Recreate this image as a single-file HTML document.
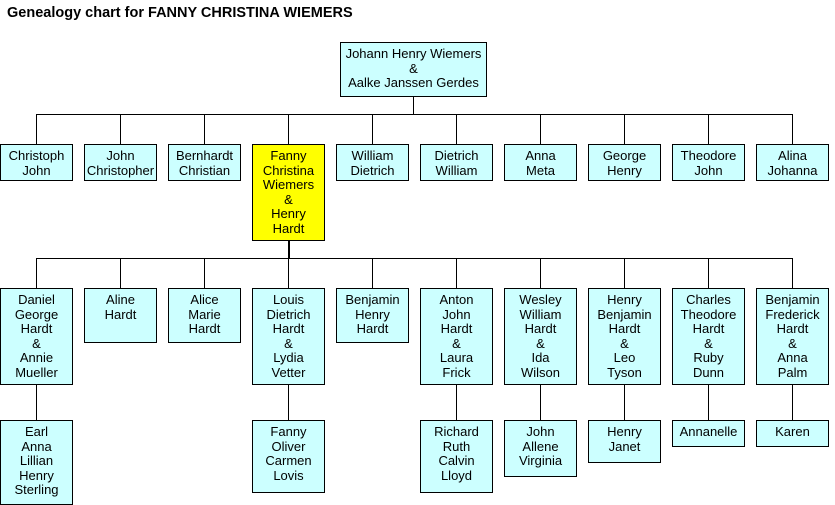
<!DOCTYPE html>
<html><head><meta charset="utf-8"><style>
body{margin:0;width:835px;height:505px;background:#fff;position:relative;overflow:hidden;font-family:"Liberation Sans",Arial,sans-serif}
.t{position:absolute;left:7px;top:5px;font-weight:bold;font-size:14.5px}
.b{position:absolute;box-sizing:border-box;border:1px solid #000;background:#ccffff;text-align:center;font-size:13px;line-height:14.6px;padding-top:4px;color:#000;white-space:nowrap}
.y{background:#ffff00}
.h{position:absolute;height:1px;background:#000}
.v{position:absolute;width:1px;background:#000}
</style></head><body>
<div class="t">Genealogy chart for FANNY CHRISTINA WIEMERS</div>
<div class="b" style="left:340px;top:42px;width:147px;height:55px">Johann Henry Wiemers<br>&amp;<br>Aalke Janssen Gerdes</div>
<div class="v" style="left:413px;top:96px;height:19px"></div>
<div class="h" style="left:36px;top:114px;width:757px"></div>
<div class="v" style="left:36px;top:114px;height:30px"></div>
<div class="v" style="left:120px;top:114px;height:30px"></div>
<div class="v" style="left:204px;top:114px;height:30px"></div>
<div class="v" style="left:288px;top:114px;height:30px"></div>
<div class="v" style="left:372px;top:114px;height:30px"></div>
<div class="v" style="left:456px;top:114px;height:30px"></div>
<div class="v" style="left:540px;top:114px;height:30px"></div>
<div class="v" style="left:624px;top:114px;height:30px"></div>
<div class="v" style="left:708px;top:114px;height:30px"></div>
<div class="v" style="left:792px;top:114px;height:30px"></div>

<div class="b" style="left:0;top:144px;width:73px;height:37px">Christoph<br>John</div>
<div class="b" style="left:84px;top:144px;width:73px;height:37px">John<br>Christopher</div>
<div class="b" style="left:168px;top:144px;width:73px;height:37px">Bernhardt<br>Christian</div>
<div class="b y" style="left:252px;top:144px;width:73px;height:97px">Fanny<br>Christina<br>Wiemers<br>&amp;<br>Henry<br>Hardt</div>
<div class="b" style="left:336px;top:144px;width:73px;height:37px">William<br>Dietrich</div>
<div class="b" style="left:420px;top:144px;width:73px;height:37px">Dietrich<br>William</div>
<div class="b" style="left:504px;top:144px;width:73px;height:37px">Anna<br>Meta</div>
<div class="b" style="left:588px;top:144px;width:73px;height:37px">George<br>Henry</div>
<div class="b" style="left:672px;top:144px;width:73px;height:37px">Theodore<br>John</div>
<div class="b" style="left:756px;top:144px;width:73px;height:37px">Alina<br>Johanna</div>

<div class="v" style="left:288px;top:240px;height:18px;width:2px"></div>
<div class="h" style="left:36px;top:258px;width:757px"></div>
<div class="v" style="left:36px;top:258px;height:30px"></div>
<div class="v" style="left:120px;top:258px;height:30px"></div>
<div class="v" style="left:204px;top:258px;height:30px"></div>
<div class="v" style="left:288px;top:258px;height:30px"></div>
<div class="v" style="left:372px;top:258px;height:30px"></div>
<div class="v" style="left:456px;top:258px;height:30px"></div>
<div class="v" style="left:540px;top:258px;height:30px"></div>
<div class="v" style="left:624px;top:258px;height:30px"></div>
<div class="v" style="left:708px;top:258px;height:30px"></div>
<div class="v" style="left:792px;top:258px;height:30px"></div>

<div class="b" style="left:0;top:288px;width:73px;height:97px">Daniel<br>George<br>Hardt<br>&amp;<br>Annie<br>Mueller</div>
<div class="b" style="left:84px;top:288px;width:73px;height:55px">Aline<br>Hardt</div>
<div class="b" style="left:168px;top:288px;width:73px;height:55px">Alice<br>Marie<br>Hardt</div>
<div class="b" style="left:252px;top:288px;width:73px;height:97px">Louis<br>Dietrich<br>Hardt<br>&amp;<br>Lydia<br>Vetter</div>
<div class="b" style="left:336px;top:288px;width:73px;height:55px">Benjamin<br>Henry<br>Hardt</div>
<div class="b" style="left:420px;top:288px;width:73px;height:97px">Anton<br>John<br>Hardt<br>&amp;<br>Laura<br>Frick</div>
<div class="b" style="left:504px;top:288px;width:73px;height:97px">Wesley<br>William<br>Hardt<br>&amp;<br>Ida<br>Wilson</div>
<div class="b" style="left:588px;top:288px;width:73px;height:97px">Henry<br>Benjamin<br>Hardt<br>&amp;<br>Leo<br>Tyson</div>
<div class="b" style="left:672px;top:288px;width:73px;height:97px">Charles<br>Theodore<br>Hardt<br>&amp;<br>Ruby<br>Dunn</div>
<div class="b" style="left:756px;top:288px;width:73px;height:97px">Benjamin<br>Frederick<br>Hardt<br>&amp;<br>Anna<br>Palm</div>

<div class="v" style="left:36px;top:385px;height:35px"></div>
<div class="v" style="left:288px;top:385px;height:35px"></div>
<div class="v" style="left:456px;top:385px;height:35px"></div>
<div class="v" style="left:540px;top:385px;height:35px"></div>
<div class="v" style="left:624px;top:385px;height:35px"></div>
<div class="v" style="left:708px;top:385px;height:35px"></div>
<div class="v" style="left:792px;top:385px;height:35px"></div>

<div class="b" style="left:0;top:420px;width:73px;height:85px">Earl<br>Anna<br>Lillian<br>Henry<br>Sterling</div>
<div class="b" style="left:252px;top:420px;width:73px;height:73px">Fanny<br>Oliver<br>Carmen<br>Lovis</div>
<div class="b" style="left:420px;top:420px;width:73px;height:73px">Richard<br>Ruth<br>Calvin<br>Lloyd</div>
<div class="b" style="left:504px;top:420px;width:73px;height:57px">John<br>Allene<br>Virginia</div>
<div class="b" style="left:588px;top:420px;width:73px;height:43px">Henry<br>Janet</div>
<div class="b" style="left:672px;top:420px;width:73px;height:27px">Annanelle</div>
<div class="b" style="left:756px;top:420px;width:73px;height:27px">Karen</div>
</body></html>
